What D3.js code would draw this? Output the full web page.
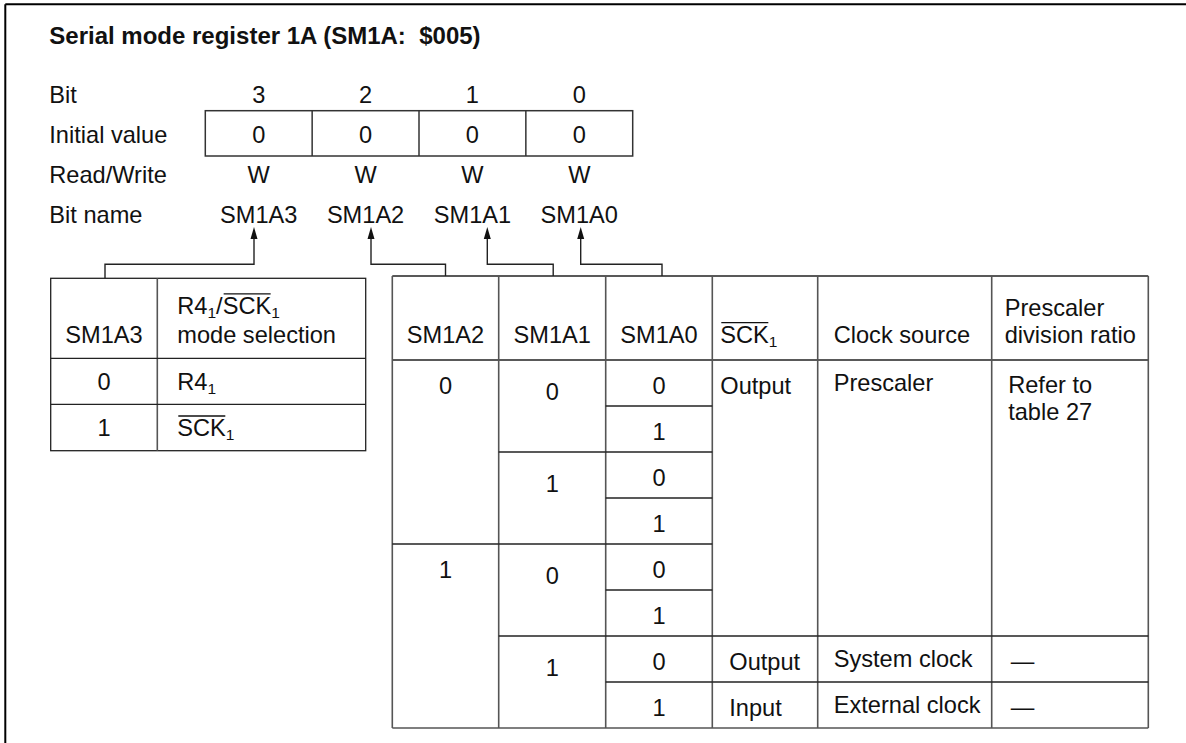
<!DOCTYPE html>
<html><head><meta charset="utf-8">
<script src="https://cdn.jsdelivr.net/npm/d3@7"></script>
<style>
body{margin:0;background:#fff}
svg{display:block}
text{font-family:"Liberation Sans",Arial,Helvetica,sans-serif;fill:#111;white-space:pre}
</style></head>
<body><svg id="c" width="1186" height="743"></svg>
<script>
// ---------- data ----------
const title = "Serial mode register 1A (SM1A:  $005)";
const rowLabels = ["Bit", "Initial value", "Read/Write", "Bit name"];
const bits = ["3", "2", "1", "0"];
const initialValues = ["0", "0", "0", "0"];
const readWrite = ["W", "W", "W", "W"];
const bitNames = ["SM1A3", "SM1A2", "SM1A1", "SM1A0"];

// left table (SM1A3)
const leftHeaders = ["SM1A3", "R4{1}/[SCK]{1}\nmode selection"];
const leftValues = ["0", "1"];
const leftModes = ["R4{1}", "[SCK]{1}"];

// right table (SM1A2..0)
const rightHeaders = ["SM1A2", "SM1A1", "SM1A0", "[SCK]{1}", "Clock source", "Prescaler\ndivision ratio"];
const sm1a2 = [{v: "0", start: 0, span: 4}, {v: "1", start: 4, span: 4}];
const sm1a1 = [{v: "0", start: 0, span: 2}, {v: "1", start: 2, span: 2}, {v: "0", start: 4, span: 2}, {v: "1", start: 6, span: 2}];
const sm1a0 = ["0", "1", "0", "1", "0", "1", "0", "1"];
const sckMode = [{v: "Output", start: 0, span: 6}, {v: "Output", start: 6, span: 1}, {v: "Input", start: 7, span: 1}];
const clockSource = [{v: "Prescaler", start: 0, span: 6}, {v: "System clock", start: 6, span: 1}, {v: "External clock", start: 7, span: 1}];
const divisionRatio = [{v: "Refer to\ntable 27", start: 0, span: 6}, {v: "\u2014", start: 6, span: 1}, {v: "\u2014", start: 7, span: 1}];

// ---------- drawing ----------
const svg = d3.select("#c");
const FS = 23.6, SUB = 15.5, SUBDY = 4, LH = 26.5;
const LINE = "#222", VLINE = "#555";

function parseRich(s) {
  const parts = [];
  const re = /\{([^}]*)\}|\[([^\]]*)\]|([^{\[]+)/g;
  let m;
  while ((m = re.exec(s))) {
    if (m[1] !== undefined) parts.push({t: m[1], sub: true});
    else if (m[2] !== undefined) parts.push({t: m[2], over: true});
    else parts.push({t: m[3]});
  }
  return parts;
}
function richLine(g, s, x, y, anchor) {
  const parts = parseRich(s);
  const t = g.append("text").attr("x", x).attr("y", y).attr("font-size", FS)
    .attr("text-anchor", anchor === "middle" ? "middle" : "start");
  let idx = 0, shifted = false;
  const overs = [];
  parts.forEach(p => {
    const ts = t.append("tspan").text(p.t);
    if (p.sub) { ts.attr("font-size", SUB).attr("dy", SUBDY); shifted = true; }
    else if (shifted) { ts.attr("dy", -SUBDY); shifted = false; }
    if (p.over) overs.push([idx, idx + p.t.length]);
    idx += p.t.length;
  });
  const node = t.node();
  overs.forEach(([a, b]) => {
    const x1 = node.getStartPositionOfChar(a).x;
    const x2 = node.getEndPositionOfChar(b - 1).x;
    g.append("line").attr("x1", x1 + 1).attr("x2", x2 - 0.5)
      .attr("y1", y - 20).attr("y2", y - 20).attr("stroke", "#111").attr("stroke-width", 1.3);
  });
}
function multi(g, s, x, y, anchor, lh) {
  const lines = s.split("\n");
  const step = lh || LH;
  lines.forEach((l, i) => richLine(g, l, x, y - step * (lines.length - 1 - i), anchor));
}
function multiTop(g, s, x, y, anchor) {
  s.split("\n").forEach((l, i) => richLine(g, l, x, y + LH * i, anchor));
}

// frame
svg.append("line").attr("x1", 5.3).attr("x2", 5.3).attr("y1", 4.3).attr("y2", 743).attr("stroke", "#000").attr("stroke-width", 2);
svg.append("line").attr("x1", 5.3).attr("x2", 1186).attr("y1", 4.3).attr("y2", 4.3).attr("stroke", "#000").attr("stroke-width", 2);

// title
svg.append("text").attr("x", 49.3).attr("y", 44.3).attr("font-size", 24).attr("font-weight", "bold").text(title);

// register rows
const regX = d3.scaleBand().domain(bits).range([205.3, 632.7]);
const labelY = d3.scalePoint().domain(rowLabels).range([102.7, 222.7]);
const g = svg.append("g");
rowLabels.forEach(r => g.append("text").attr("x", 49.3).attr("y", labelY(r)).attr("font-size", FS).text(r));
const rows = [bits, initialValues, readWrite, bitNames];
rows.forEach((arr, ri) => {
  arr.forEach((v, i) => g.append("text").attr("x", regX(bits[i]) + regX.bandwidth() / 2)
    .attr("y", labelY(rowLabels[ri])).attr("text-anchor", "middle").attr("font-size", FS).text(v));
});
// register box
const boxTop = 110.7, boxBot = 156;
g.append("rect").attr("x", regX(bits[0])).attr("y", boxTop).attr("width", regX.bandwidth() * bits.length)
  .attr("height", boxBot - boxTop).attr("fill", "none").attr("stroke", "#333").attr("stroke-width", 1.5);
bits.slice(1).forEach(b => g.append("line").attr("x1", regX(b)).attr("x2", regX(b)).attr("y1", boxTop).attr("y2", boxBot)
  .attr("stroke", "#333").attr("stroke-width", 1.5));

// ---------- left table ----------
const lCols = [50.7, 157.3, 365.7];
const lRowEdges = [278.3, 358.3, 404.3, 450.7];
const lt = svg.append("g");
lt.append("rect").attr("x", lCols[0]).attr("y", lRowEdges[0]).attr("width", lCols[2] - lCols[0])
  .attr("height", lRowEdges[3] - lRowEdges[0]).attr("fill", "none").attr("stroke", LINE).attr("stroke-width", 1.3);
lt.append("line").attr("x1", lCols[1]).attr("x2", lCols[1]).attr("y1", lRowEdges[0]).attr("y2", lRowEdges[3])
  .attr("stroke", VLINE).attr("stroke-width", 1.6);
[1, 2].forEach(i => lt.append("line").attr("x1", lCols[0]).attr("x2", lCols[2]).attr("y1", lRowEdges[i]).attr("y2", lRowEdges[i])
  .attr("stroke", LINE).attr("stroke-width", 1.3));
multi(lt, leftHeaders[0], (lCols[0] + lCols[1]) / 2, lRowEdges[1] - 15.5, "middle");
multi(lt, leftHeaders[1], lCols[1] + 20, lRowEdges[1] - 15.5, "start", 29);
leftValues.forEach((v, i) => {
  const by = (lRowEdges[i + 1] + lRowEdges[i + 2]) / 2 + 8.5;
  richLine(lt, v, (lCols[0] + lCols[1]) / 2, by, "middle");
  richLine(lt, leftModes[i], lCols[1] + 20, by, "start");
});

// ---------- right table ----------
const rCols = [392.3, 498.7, 605.7, 712.3, 817.7, 991.7, 1148.3];
const rTop = 276;
const rowY = d3.scaleLinear().domain([0, 8]).range([360, 728]);
const rowH = rowY(1) - rowY(0);
const rt = svg.append("g");
rt.append("line").attr("x1", rCols[0]).attr("x2", rCols[6]).attr("y1", rTop).attr("y2", rTop).attr("stroke", LINE).attr("stroke-width", 1.3);
rt.append("line").attr("x1", rCols[0]).attr("x2", rCols[6]).attr("y1", rowY(0)).attr("y2", rowY(0)).attr("stroke", LINE).attr("stroke-width", 1.3);
rt.append("line").attr("x1", rCols[0]).attr("x2", rCols[6]).attr("y1", rowY(8)).attr("y2", rowY(8)).attr("stroke", VLINE).attr("stroke-width", 1.6);
rCols.forEach(cx => rt.append("line").attr("x1", cx).attr("x2", cx).attr("y1", rTop).attr("y2", rowY(8))
  .attr("stroke", VLINE).attr("stroke-width", 1.6));

const sm1a0Cells = sm1a0.map((v, i) => ({v, start: i, span: 1}));
const columns = [sm1a2, sm1a1, sm1a0Cells, sckMode, clockSource, divisionRatio];
columns.forEach((cells, ci) => {
  cells.forEach(c => {
    if (c.start > 0) rt.append("line").attr("x1", rCols[ci]).attr("x2", rCols[ci + 1])
      .attr("y1", rowY(c.start)).attr("y2", rowY(c.start)).attr("stroke", LINE).attr("stroke-width", 1.3);
  });
});

// headers
const hBase = rowY(0) - 17.3;
const headerPad = [null, null, null, 8, 16, 13];
rightHeaders.forEach((h, i) => {
  if (headerPad[i] === null) multi(rt, h, (rCols[i] + rCols[i + 1]) / 2, hBase, "middle");
  else multi(rt, h, rCols[i] + headerPad[i], hBase, "start");
});

// body
[sm1a2, sm1a1].forEach((cells, ci) => {
  cells.forEach(c => {
    const center = rowY(c.start) + rowH * (c.span === 4 ? 0.55 : 0.68);
    richLine(rt, c.v, (rCols[ci] + rCols[ci + 1]) / 2, center + 8.5, "middle");
  });
});
sm1a0Cells.forEach(c => richLine(rt, c.v, (rCols[2] + rCols[3]) / 2, rowY(c.start) + 34, "middle"));
sckMode.forEach(c => richLine(rt, c.v, rCols[3] + (c.span > 1 ? 8 : 17), rowY(c.start) + 33.5, "start"));
clockSource.forEach(c => richLine(rt, c.v, rCols[4] + 16, rowY(c.start) + 30.5, "start"));
divisionRatio.forEach(c => multiTop(rt, c.v, rCols[5] + (c.span > 1 ? 16.5 : 19), rowY(c.start) + 33, "start"));

// ---------- connectors ----------
const arrowX = [254, 371, 487.3, 580.7];
const targetX = [(lCols[0] + lCols[1]) / 2 + 1, (rCols[0] + rCols[1]) / 2, (rCols[1] + rCols[2]) / 2 + 1, (rCols[2] + rCols[3]) / 2 + 3];
const targetY = [lRowEdges[0], rTop, rTop, rTop];
const tipY = 227, headLen = 12, elbowY = 264.3;
const cg = svg.append("g");
bitNames.forEach((n, i) => {
  const path = d3.path();
  path.moveTo(arrowX[i], tipY + headLen - 1);
  path.lineTo(arrowX[i], elbowY);
  path.lineTo(targetX[i], elbowY);
  path.lineTo(targetX[i], targetY[i]);
  cg.append("path").attr("d", path.toString()).attr("fill", "none").attr("stroke", "#222").attr("stroke-width", 1.4);
  const h = d3.path();
  h.moveTo(arrowX[i], tipY);
  h.lineTo(arrowX[i] - 3.5, tipY + headLen);
  h.lineTo(arrowX[i] + 3.5, tipY + headLen);
  h.closePath();
  cg.append("path").attr("d", h.toString()).attr("fill", "#111");
});
</script></body></html>
